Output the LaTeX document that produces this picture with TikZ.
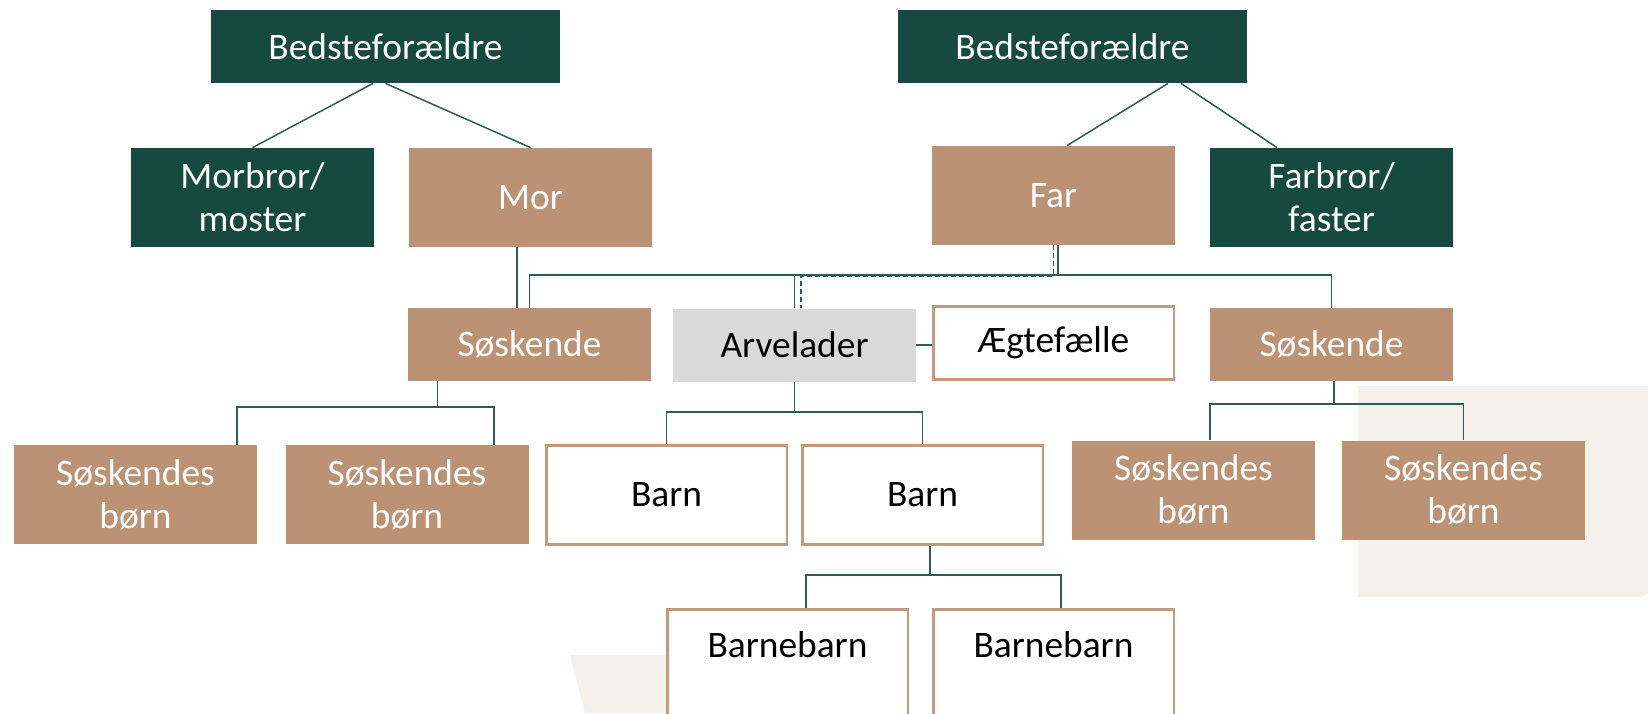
\documentclass[tikz,border=0pt]{standalone}
\usepackage{fontspec}
\setmainfont{Carlito}
\usetikzlibrary{positioning}
\definecolor{skovgroen}{HTML}{164A41}
\definecolor{lerbrun}{HTML}{BC9274}
\definecolor{kantbrun}{HTML}{C49A7C}
\definecolor{arvegraa}{HTML}{D9D9D9}
\definecolor{linjegroen}{HTML}{2D5E56}
\definecolor{sandbg}{HTML}{F4F0EA}
\tikzset{
	boks/.style={minimum width=121.5pt, minimum height=49.5pt, inner sep=0pt,
		align=center, font=\fontsize{18.7}{21.5}\selectfont},
	lav/.style={minimum height=36.5pt},
	groen/.style={boks, fill=skovgroen, text=white},
	brun/.style={boks, fill=lerbrun, text=white},
	hvid/.style={boks, draw=kantbrun, line width=1.25pt, fill=white, text=black,
		minimum width=120.25pt},
	dyb/.style={minimum height=0pt, inner ysep=0pt, text height=24pt, text depth=37pt},
	forbind/.style={draw=linjegroen, line width=0.75pt},
	stiplet/.style={forbind, dash pattern=on 2.5pt off 1.5pt},
}

\begin{document}
\begin{tikzpicture}[x=0.5pt, y=-0.5pt]
	\useasboundingbox (0,0) rectangle (1648,713);
	\clip (0,0) rectangle (1648,713);
	% baggrund
	\fill[sandbg] (1358,386) -- (1648,386) -- (1648,594) -- (1640,597) -- (1358,597) -- cycle;
	\fill[sandbg] (570,655) -- (680,655) -- (680,713) -- (585,713) -- cycle;
	% bedsteforaeldre og foraeldre
	\node[groen, lav, minimum width=174.5pt] (bfL) at (385.5,46.5) {Bedsteforældre};
	\node[groen, lav, minimum width=174.5pt] (bfR) at (1072.5,46.5) {Bedsteforældre};
	\node[groen] (morbror) at (252.5,197.5) {Morbror/\\moster};
	\node[brun] (mor) at (530.5,197.5) {Mor};
	\node[brun] (far) at (1053.5,195.5) {Far};
	\node[groen] (farbror) at (1331.5,197.5) {Farbror/\\faster};
	% arvelader og soskende
	\node[brun, lav] (soskL) at (529.5,344.5) {Søskende};
	\node[boks, lav, fill=arvegraa] (arvelader) at (794.5,345) {Arvelader};
	\node[hvid, lav] (aegte) at (1053.5,343) {Ægtefælle};
	\node[brun, lav] (soskR) at (1331.5,344.5) {Søskende};
	% boern
	\node[brun] (sb1) at (135.5,494.5) {Søskendes\\børn};
	\node[brun] (sb2) at (407,494.5) {Søskendes\\børn};
	\node[hvid] (barn1) at (666.5,495) {Barn};
	\node[hvid] (barn2) at (922.5,495) {Barn};
	\node[brun] (sb3) at (1193.5,490) {Søskendes\\børn};
	\node[brun] (sb4) at (1463.5,490) {Søskendes\\børn};
	% boerneboern
	\node[hvid, dyb, anchor=north] (bb1) at (787.5,608) {Barnebarn};
	\node[hvid, dyb, anchor=north] (bb2) at (1053.5,608) {Barnebarn};

	% streger fra bedsteforaeldre
	\draw[forbind] ([xshift=-6.25pt]bfL.south) -- (morbror.north);
	\draw[forbind] (bfL.south) -- (mor.north);
	\draw[forbind] ([xshift=47.75pt]bfR.south) -- ([xshift=6.75pt]far.north);
	\draw[forbind] ([xshift=54.25pt]bfR.south) -- ([xshift=-27.25pt]farbror.north);
	% streger fra foraeldre
	\coordinate (morned) at ([xshift=-6.75pt]mor.south);
	\draw[forbind] (morned) -- (morned |- soskL.north);
	\coordinate (farbus) at ([xshift=2.25pt]far.south |- 0,275);
	\draw[forbind] ([xshift=2.25pt]far.south) -- (farbus);
	\draw[forbind] (soskL.north) |- (farbus) -| (soskR.north);
	\draw[forbind] (arvelader.north) -- (arvelader.north |- farbus);
	\coordinate (arvtop) at ([xshift=3.25pt]arvelader.north);
	\coordinate (stibus) at (0,276);
	\draw[stiplet] (far.south) -- (far.south |- stibus) -| (arvtop);
	\draw[forbind] (arvelader.east) -- (arvelader.east -| aegte.west);
	% soskende til soskendes boern
	\coordinate (sLned) at ([xshift=-46pt]soskL.south);
	\coordinate (sb1op) at ([xshift=50.75pt]sb1.north);
	\coordinate (sb2op) at ([xshift=43.5pt]sb2.north);
	\draw[forbind] (sLned) -- (sLned |- 0,407);
	\draw[forbind] (sb1op) |- (sb2op |- 0,407) -- (sb2op);
	\coordinate (sRned) at ([xshift=1.25pt]soskR.south);
	\coordinate (sb3op) at ([xshift=8.25pt]sb3.north);
	\draw[forbind] (sRned) -- (sRned |- 0,404);
	\draw[forbind] (sb3op) |- (sb4.north |- 0,404) -- (sb4.north);
	% arvelader til boern
	\draw[forbind] (arvelader.south) -- (arvelader.south |- 0,412);
	\draw[forbind] (barn1.north) |- (barn2.north |- 0,412) -- (barn2.north);
	% barn til boerneboern
	\coordinate (b2ned) at ([xshift=3.75pt]barn2.south);
	\coordinate (bb1op) at ([xshift=9.25pt]bb1.north);
	\coordinate (bb2op) at ([xshift=3.75pt]bb2.north);
	\draw[forbind] (b2ned) -- (b2ned |- 0,575);
	\draw[forbind] (bb1op) |- (bb2op |- 0,575) -- (bb2op);
\end{tikzpicture}
\end{document}
